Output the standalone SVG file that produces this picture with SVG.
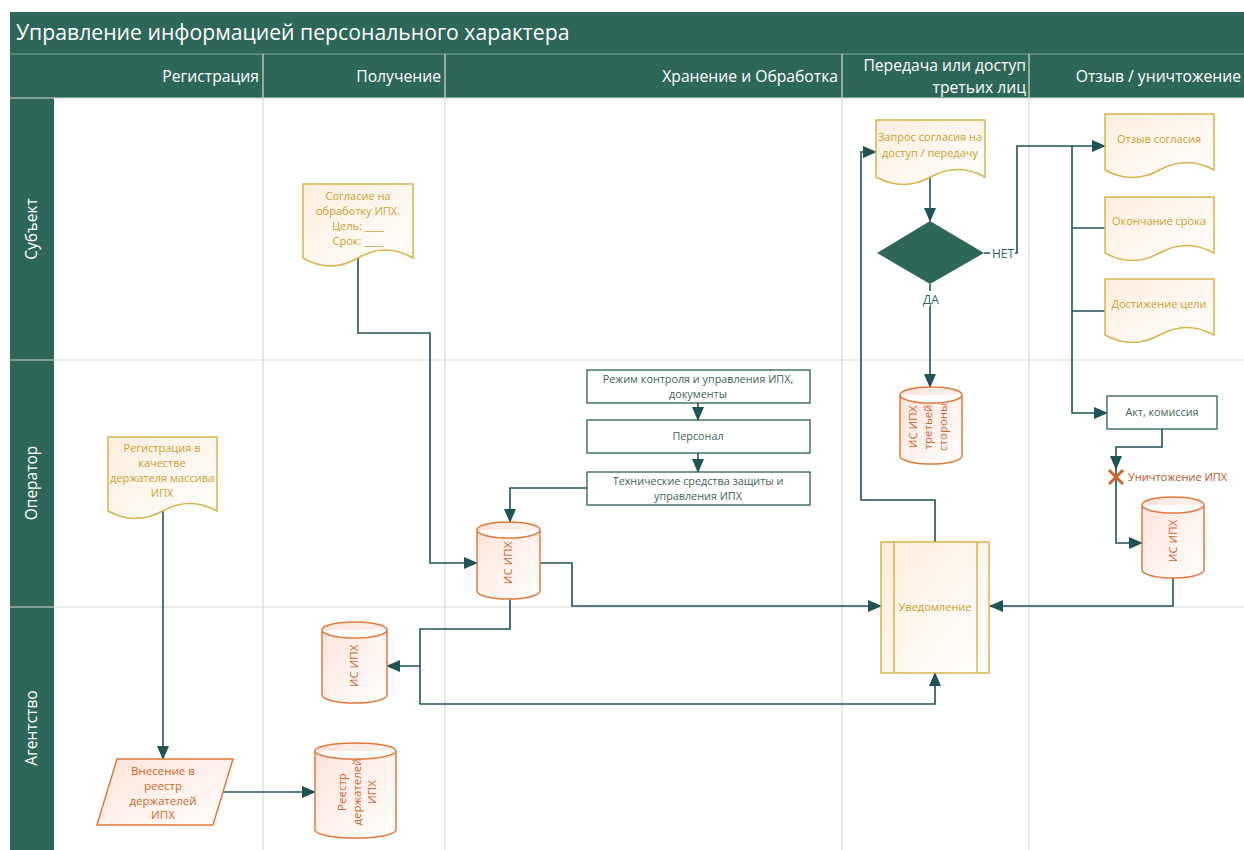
<svg xmlns="http://www.w3.org/2000/svg" width="1244" height="850" viewBox="0 0 1244 850">
<defs>
<linearGradient id="gDoc" x1="0" y1="0" x2="1" y2="1"><stop offset="0" stop-color="#FCEEDD"/><stop offset="1" stop-color="#FFFFFF"/></linearGradient>
<linearGradient id="gCyl" x1="0" y1="0" x2="1" y2="1"><stop offset="0" stop-color="#FBE3DA"/><stop offset="1" stop-color="#FFFFFF"/></linearGradient>
<marker id="arr" markerUnits="userSpaceOnUse" markerWidth="14" markerHeight="12" refX="13" refY="6" orient="auto"><path d="M0,0 L14,6 L0,12 Z" fill="#1F5356"/></marker>
<style>
text{font-family:"Open Sans","Noto Sans","DejaVu Sans",sans-serif}
.hdr{fill:#2E6659}
.sep{stroke:#D9D9D9;stroke-width:1.2}
.hsep{stroke:#7FA39A;stroke-width:1}
.ht{fill:#FFFFFF;font-size:15.7px}
.lt{fill:#FFFFFF;font-size:15.5px}
.doc{fill:url(#gDoc);stroke:#D9B44A;stroke-width:1.5}
.dt{fill:#C9A032;font-size:11px;text-anchor:middle}
.cyl{fill:url(#gCyl);stroke:#E0793A;stroke-width:1.5}
.ct{fill:#D0652A;font-size:11.5px;text-anchor:middle}
.box{fill:#FFFFFF;stroke:#2F5F5A;stroke-width:1.3}
.bt{fill:#3F5F5C;font-size:10.8px;text-anchor:middle}
.c{fill:none;stroke:#1F5356;stroke-width:1.6}
.ca{fill:none;stroke:#1F5356;stroke-width:1.6;marker-end:url(#arr)}
.lbl{fill:#2F5F5A;font-size:12px;text-anchor:middle}
</style>
</defs>
<rect width="1244" height="850" fill="#FFFFFF"/>
<g id="frame">
<rect x="10" y="12" width="1234" height="86" class="hdr"/>
<line x1="10" y1="54" x2="1244" y2="54" class="hsep"/>
<rect x="10" y="98" width="44" height="752" class="hdr"/>
<line x1="263" y1="54" x2="263" y2="850" class="sep"/>
<line x1="445" y1="54" x2="445" y2="850" class="sep"/>
<line x1="842" y1="54" x2="842" y2="850" class="sep"/>
<line x1="1029" y1="54" x2="1029" y2="850" class="sep"/>
<line x1="10" y1="98" x2="1244" y2="98" class="sep"/>
<line x1="10" y1="360" x2="1244" y2="360" class="sep"/>
<line x1="10" y1="607" x2="1244" y2="607" class="sep"/>
<text x="16" y="40" fill="#FFFFFF" font-size="21.2">Управление информацией персонального характера</text>
<text x="259" y="82" text-anchor="end" class="ht">Регистрация</text>
<text x="441" y="82" text-anchor="end" class="ht">Получение</text>
<text x="838" y="82" text-anchor="end" class="ht">Хранение и Обработка</text>
<text x="1026" y="71" text-anchor="end" class="ht">Передача или доступ</text>
<text x="1026" y="93" text-anchor="end" class="ht">третьих лиц</text>
<text x="1241" y="82" text-anchor="end" class="ht">Отзыв / уничтожение</text>
<text transform="translate(37,229) rotate(-90)" text-anchor="middle" class="lt">Субъект</text>
<text transform="translate(37,483) rotate(-90)" text-anchor="middle" class="lt">Оператор</text>
<text transform="translate(37,728) rotate(-90)" text-anchor="middle" class="lt">Агентство</text>
</g>
<g id="connectors">
<polyline class="ca" points="358,258 358,333 430,333 430,563 477,563"/>
<polyline class="ca" points="587,488 510,488 510,522"/>
<polyline class="ca" points="698,403 698,420"/>
<polyline class="ca" points="698,453 698,472"/>
<polyline class="ca" points="540,563 572,563 572,606 881,606"/>
<polyline class="ca" points="510,599 510,629 420,629 420,704 935,704 935,673"/>
<polyline class="ca" points="420,666 387,666"/>
<polyline class="ca" points="935,542 935,500 861,500 861,152 876,152"/>
<polyline class="ca" points="930,177 930,221"/>
<polyline class="ca" points="984,253 1017,253 1017,146 1105,146"/>
<polyline class="ca" points="1072,146 1072,413 1107,413"/>
<polyline class="c" points="1072,228 1105,228"/>
<polyline class="c" points="1072,311 1105,311"/>
<polyline class="ca" points="930,284 930,387"/>
<polyline class="ca" points="1162,429 1162,447 1116,447 1116,469"/>
<polyline class="ca" points="1116,469 1116,543 1142,543"/>
<polyline class="ca" points="1173,578 1173,606 990,606"/>
<polyline class="ca" points="163,511 163,759"/>
<polyline class="ca" points="220,792 315,792"/>
<rect x="990" y="245" width="25" height="16" fill="#FFFFFF"/>
<text x="1003" y="258" class="lbl">НЕТ</text>
<rect x="921" y="291" width="19" height="15" fill="#FFFFFF"/>
<text x="931" y="304" class="lbl">ДА</text>
<g id="destroy-mark">
<line x1="1109" y1="470" x2="1123" y2="484" stroke="#D0652A" stroke-width="3"/>
<line x1="1123" y1="470" x2="1109" y2="484" stroke="#D0652A" stroke-width="3"/>
<text x="1128" y="481" fill="#B5542A" font-size="11">Уничтожение ИПХ</text>
</g>
</g>
<g id="n-soglasie">
<path class="doc" d="M303,184 H413 V258 Q385.5,242 358,258 T303,258 Z"/>
<text class="dt" x="358" y="200">Согласие на</text>
<text class="dt" x="358" y="215">обработку ИПХ.</text>
<text class="dt" x="358" y="230">Цель: ____</text>
<text class="dt" x="358" y="245">Срок: ____</text>
</g>
<g id="n-zapros">
<path class="doc" d="M876,120 H985 V177 Q957.8,162 930.5,177 T876,177 Z"/>
<text class="dt" x="930" y="141">Запрос согласия на</text>
<text class="dt" x="930" y="157">доступ / передачу</text>
</g>
<g id="n-decision">
<polygon points="877,253 930,221 984,253 930,284" fill="#2E6659"/>
</g>
<g id="n-otzyv">
<path class="doc" d="M1105,114 H1214 V170 Q1186.8,155 1159.5,170 T1105,170 Z"/>
<text class="dt" x="1159" y="143">Отзыв согласия</text>
</g>
<g id="n-okonchanie">
<path class="doc" d="M1105,197 H1214 V253 Q1186.8,238 1159.5,253 T1105,253 Z"/>
<text class="dt" x="1159" y="225">Окончание срока</text>
</g>
<g id="n-dostizhenie">
<path class="doc" d="M1105,279 H1214 V335 Q1186.8,320 1159.5,335 T1105,335 Z"/>
<text class="dt" x="1159" y="308">Достижение цели</text>
</g>
<g id="n-registraciya">
<path class="doc" d="M108,437 H217 V511 Q189.8,496 162.5,511 T108,511 Z"/>
<text class="dt" x="162" y="452">Регистрация в</text>
<text class="dt" x="162" y="467">качестве</text>
<text class="dt" x="162" y="482">держателя массива</text>
<text class="dt" x="162" y="497">ИПХ</text>
</g>
<g id="n-rezhim">
<rect class="box" x="587" y="370" width="223" height="33"/>
<text class="bt" x="698" y="383">Режим контроля и управления ИПХ,</text>
<text class="bt" x="698" y="398">документы</text>
</g>
<g id="n-personal">
<rect class="box" x="587" y="420" width="223" height="33"/>
<text class="bt" x="698" y="440">Персонал</text>
</g>
<g id="n-tech">
<rect class="box" x="587" y="472" width="223" height="33"/>
<text class="bt" x="698" y="485">Технические средства защиты и</text>
<text class="bt" x="698" y="500">управления ИПХ</text>
</g>
<g id="n-akt">
<rect class="box" x="1107" y="396" width="110" height="33"/>
<text class="bt" x="1162" y="416">Акт, комиссия</text>
</g>
<g id="n-is-third">
<path class="cyl" d="M900,395 A31,8 0 0 1 962,395 V456 A31,8 0 0 1 900,456 Z M900,395 A31,8 0 0 0 962,395"/>
<text class="ct" transform="translate(931,427) rotate(-90)"><tspan x="0" dy="-14">ИС ИПХ</tspan><tspan x="0" dy="15">третьей</tspan><tspan x="0" dy="15">стороны</tspan></text>
</g>
<g id="n-is-operator">
<path class="cyl" d="M477,530 A31.5,8 0 0 1 540,530 V591 A31.5,8 0 0 1 477,591 Z M477,530 A31.5,8 0 0 0 540,530"/>
<text class="ct" transform="translate(512,563) rotate(-90)">ИС ИПХ</text>
</g>
<g id="n-is-right">
<path class="cyl" d="M1142,505 A31,8 0 0 1 1204,505 V570 A31,8 0 0 1 1142,570 Z M1142,505 A31,8 0 0 0 1204,505"/>
<text class="ct" transform="translate(1177,541) rotate(-90)">ИС ИПХ</text>
</g>
<g id="n-is-agency">
<path class="cyl" d="M322,630 A32.5,8 0 0 1 387,630 V695 A32.5,8 0 0 1 322,695 Z M322,630 A32.5,8 0 0 0 387,630"/>
<text class="ct" transform="translate(358,666) rotate(-90)">ИС ИПХ</text>
</g>
<g id="n-reestr">
<path class="cyl" d="M315,751 A40.5,8 0 0 1 396,751 V830 A40.5,8 0 0 1 315,830 Z M315,751 A40.5,8 0 0 0 396,751"/>
<text class="ct" transform="translate(356,792) rotate(-90)"><tspan x="0" dy="-10">Реестр</tspan><tspan x="0" dy="15">держателей</tspan><tspan x="0" dy="15">ИПХ</tspan></text>
</g>
<g id="n-vnesenie">
<polygon points="117,759 233,759 213,825 97,825" fill="url(#gCyl)" stroke="#E0793A" stroke-width="1.5"/>
<text class="ct" x="163" y="775">Внесение в</text>
<text class="ct" x="163" y="790">реестр</text>
<text class="ct" x="163" y="805">держателей</text>
<text class="ct" x="163" y="819">ИПХ</text>
</g>
<g id="n-uvedomlenie">
<rect class="doc" x="881" y="542" width="108" height="131"/>
<line x1="894" y1="542" x2="894" y2="673" stroke="#D9B44A" stroke-width="1.5"/>
<line x1="977" y1="542" x2="977" y2="673" stroke="#D9B44A" stroke-width="1.5"/>
<text class="dt" x="935" y="611">Уведомление</text>
</g>
</svg>
